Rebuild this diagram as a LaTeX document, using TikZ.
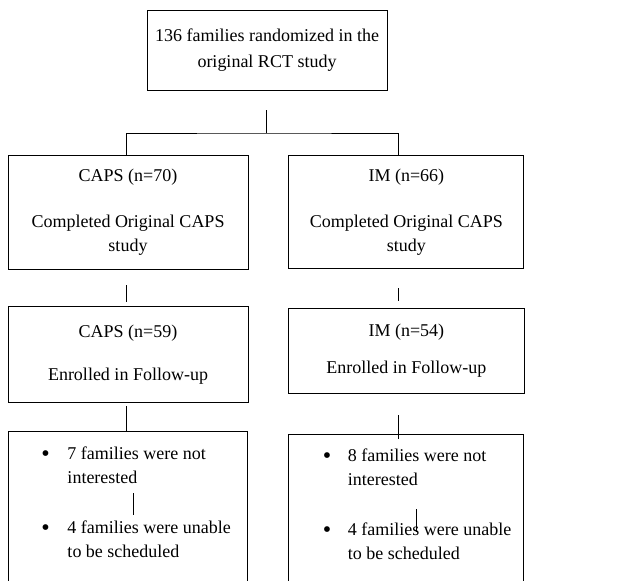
\documentclass[tikz,border=0pt]{standalone}
\usepackage{fontspec}
\setmainfont{Liberation Serif}
\usetikzlibrary{positioning}

\newcommand{\listdot}{\raisebox{-2pt}{\fontsize{24}{24}\selectfont\textbullet}}

\begin{document}
\begin{tikzpicture}[
  x=1pt, y=-1pt,
  box/.style={
    rectangle, draw=black, line width=0.9pt,
    font=\fontsize{18}{24}\selectfont,
    align=center, inner sep=0pt
  },
  listbox/.style={
    rectangle, draw=black, line width=0.9pt,
    font=\fontsize{18}{24}\selectfont,
    text width=239pt, align=flush left,
    inner xsep=0pt, inner ysep=15pt, text depth=160pt
  },
  link/.style={draw=black, line width=0.9pt}
]
\clip (0,0) rectangle (619,581);
\node[box, minimum width=240pt, minimum height=80pt] (rct) at (267,50)
  {136 families randomized in the\\[2pt]original RCT study};
\node[box, minimum width=240pt, minimum height=114pt] (capsA) at (128,212)
  {CAPS (n=70)\\[22pt]Completed Original CAPS\\study};
\node[box, minimum width=235pt, minimum height=113pt, right=40pt of capsA] (imA)
  {IM (n=66)\\[22pt]Completed Original CAPS\\study};
\node[box, minimum width=240pt, minimum height=96pt, below=37pt of capsA] (capsB)
  {CAPS (n=59)\\[19pt]Enrolled in Follow-up};
\node[box, minimum width=236pt, minimum height=85pt, below=39pt of imA] (imB)
  {IM (n=54)\\[13pt]Enrolled in Follow-up};
\node[listbox, below=28pt of capsB] (capsC)
  {\hspace*{33pt}\makebox[26pt][l]{\listdot}7 families were not\\
   \hspace*{59pt}interested\\[26pt]
   \hspace*{33pt}\makebox[26pt][l]{\listdot}4 families were unable\\
   \hspace*{59pt}to be scheduled};
\node[listbox, text width=235pt, below=40pt of imB] (imC)
  {\hspace*{34pt}\makebox[25pt][l]{\listdot}8 families were not\\
   \hspace*{59pt}interested\\[26pt]
   \hspace*{34pt}\makebox[25pt][l]{\listdot}4 families were unable\\
   \hspace*{59pt}to be scheduled};
% split after randomization
\coordinate (split) at (266,110);
\coordinate (fork)  at (266,133);
\coordinate (forkL) at (126,155);
\coordinate (forkR) at (398,155);
\draw[link] (split) -- (fork);
\draw[link] (forkL) |- (fork) -| (forkR);
% between the rows
\coordinate (capsAB) at (126,285);
\coordinate (imAB)   at (398,288);
\coordinate (capsBC) at (126,406);
\coordinate (imBC)   at (398,415);
\draw[link] (capsAB) -- ++(0,17);
\draw[link] (imAB)   -- ++(0,13);
\draw[link] (capsBC) -- (capsBC |- capsC.north);
\draw[link] (imBC)   -- ++(0,24);
% stray ticks inside the bottom boxes
\coordinate (capsTick) at (133,493);
\coordinate (imTick)   at (416,509);
\draw[link] (capsTick) -- ++(0,22);
\draw[link] (imTick)   -- ++(0,23);
\end{tikzpicture}
\end{document}
